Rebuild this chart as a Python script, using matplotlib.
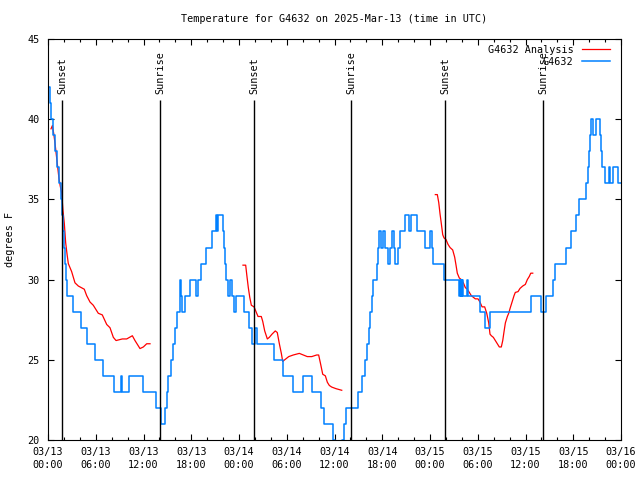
import numpy as np
import pandas as pd
import matplotlib
matplotlib.use('Agg')
import matplotlib.pyplot as plt
import matplotlib.dates as mdates

# hours after 2025-03-13 00:00 UTC
obs_hours = [0.0, 0.2, 0.4, 0.6, 0.85, 1.1, 1.35, 1.6, 1.8, 1.9, 2.0, 2.1, 2.25, 2.35,
             3.1, 4.1, 4.9, 5.9, 6.95, 8.33, 9.17, 9.34, 10.15, 11.9, 13.57, 14.2,
             14.75, 14.95, 15.1, 15.4, 15.75, 15.95, 16.25, 16.55, 16.62, 16.75, 16.88,
             17.25, 17.8, 18.6, 18.85, 19.25, 19.9, 20.55, 21.1, 21.25, 21.4, 22.0,
             22.06, 22.2, 22.38, 22.6, 22.85, 23.15, 23.35, 23.6, 24.57, 25.2, 25.6,
             26.05, 26.25, 28.4, 29.57, 30.75, 32.08, 33.21, 34.34, 34.68, 35.8, 36.0,
             36.9, 37.15, 37.5, 38.9, 39.45, 39.85, 40.05, 40.3, 40.45, 40.7, 40.88,
             41.3, 41.47, 41.63, 41.8, 42.15, 42.38, 42.75, 42.98, 43.2, 43.47, 43.63,
             43.98, 44.22, 44.8, 45.3, 45.6, 46.35, 47.4, 47.98, 48.25, 48.42, 49.7,
             51.68, 51.78, 51.85, 51.93, 52.0, 52.08, 52.2, 52.65, 52.75, 54.3, 54.95,
             55.55, 60.75, 62.0, 62.62, 63.4, 63.65, 65.1, 65.75, 66.3, 66.75, 67.6,
             67.8, 67.95, 68.1, 68.25, 68.45, 68.9, 69.4, 69.5, 69.65, 70.03, 70.45,
             70.6, 70.95, 71.6, 72.0]
obs_temps = [42, 41, 40, 39, 38, 37, 36, 35, 34, 33, 32, 31, 30, 29,
             28, 27, 26, 25, 24, 23, 24, 23, 24, 23, 22, 21,
             22, 23, 24, 25, 26, 27, 28, 29, 30, 29, 28,
             29, 30, 29, 30, 31, 32, 33, 34, 33, 34, 33,
             32, 31, 30, 29, 30, 29, 28, 29, 28, 27, 26,
             27, 26, 25, 24, 23, 24, 23, 22, 21, 20, 19,
             20, 21, 22, 23, 24, 25, 26, 27, 28, 29, 30,
             31, 32, 33, 32, 33, 32, 31, 32, 33, 32, 31,
             32, 33, 34, 33, 34, 33, 32, 33, 32, 31, 30,
             29, 30, 29, 30, 29, 30, 29, 30, 29, 28, 27,
             28, 29, 28, 29, 30, 31, 32, 33, 34, 35, 36,
             37, 38, 39, 40, 39, 40, 39, 38, 37, 36, 37,
             36, 37, 36, 36]

ana_hours_1 = [0.38, 0.55, 0.72, 0.88, 1.04, 1.22, 1.38, 1.55, 1.72, 1.88, 2.05, 2.22,
               2.39, 2.55, 2.97, 3.39, 3.81, 4.56, 4.86, 5.28, 5.69, 6.32, 6.82, 7.38,
               7.79, 8.21, 8.55, 9.34, 9.89, 10.6, 10.93, 11.56, 11.98, 12.4, 12.82]
ana_temps_1 = [39.4, 39.6, 39.1, 38.5, 37.8, 37.0, 36.3, 35.8, 35.4, 34.3, 33.5, 32.3,
               31.6, 31.0, 30.5, 29.8, 29.6, 29.4, 29.0, 28.6, 28.4, 27.9, 27.8, 27.2,
               27.0, 26.4, 26.2, 26.3, 26.3, 26.5, 26.2, 25.7, 25.8, 26.0, 26.0]
ana_hours_2 = [24.5, 24.84, 25.0, 25.17, 25.35, 25.55, 25.89, 26.14, 26.39, 26.8, 26.98,
               27.23, 27.56, 27.81, 28.15, 28.56, 28.81, 29.07, 29.32, 29.49, 29.74,
               30.25, 30.82, 31.58, 32.08, 32.58, 33.14, 33.76, 34.01, 34.27, 34.52,
               34.85, 35.1, 35.35, 35.65, 36.19, 36.91]
ana_temps_2 = [30.9, 30.9, 30.2, 29.5, 28.9, 28.4, 28.3, 28.0, 27.7, 27.7, 27.4,
               26.8, 26.3, 26.4, 26.6, 26.8, 26.7, 26.0, 25.4, 24.9, 25.0,
               25.2, 25.3, 25.4, 25.3, 25.2, 25.2, 25.3, 25.3, 24.7, 24.1,
               24.0, 23.6, 23.4, 23.3, 23.2, 23.1]
ana_hours_3 = [48.67, 48.92, 49.1, 49.26, 49.42, 49.6, 49.76, 50.01, 50.26, 50.52, 50.85,
               51.1, 51.27, 51.43, 51.68, 51.93, 52.19, 52.44, 52.69, 52.94, 53.19,
               53.44, 53.69, 54.03, 54.28, 54.54, 54.87, 55.13, 55.38, 55.54, 55.71,
               55.96, 56.21, 56.46, 56.71, 56.96, 57.14, 57.3, 57.47, 57.72, 57.89,
               58.06, 58.31, 58.56, 58.72, 59.06, 59.31, 59.65, 59.98, 60.23, 60.48,
               60.66, 60.91]
ana_temps_3 = [35.3, 35.3, 34.8, 34.1, 33.5, 32.8, 32.6, 32.5, 32.2, 32.0, 31.85,
               31.4, 30.9, 30.4, 30.1, 30.0, 29.8, 29.5, 29.4, 29.2, 29.0,
               28.9, 28.8, 28.8, 28.6, 28.3, 28.3, 27.9, 27.3, 26.6, 26.5,
               26.4, 26.2, 26.0, 25.8, 25.8, 26.2, 26.75, 27.3, 27.7, 27.9,
               28.2, 28.6, 29.0, 29.2, 29.25, 29.45, 29.6, 29.7, 30.0, 30.2,
               30.4, 30.4]

sun_hours = [1.76, 14.07, 25.9, 38.08, 49.9, 62.2]
sun_labels = ['Sunset', 'Sunrise', 'Sunset', 'Sunrise', 'Sunset', 'Sunrise']

start = pd.Timestamp('2025-03-13 00:00')
def to_time(h):
    return start + pd.to_timedelta(np.asarray(h, dtype=float), unit='h')

plt.rcParams['font.family'] = 'DejaVu Sans Mono'
plt.rcParams['font.size'] = 7.3

fig = plt.figure(figsize=(6.4, 4.8), dpi=100)
ax = fig.add_axes([48 / 640, 1 - 440 / 480, 573 / 640, 401 / 480])

red = '#ff0000'
blue = '#0080ff'
segs = [(ana_hours_1, ana_temps_1), (ana_hours_2, ana_temps_2), (ana_hours_3, ana_temps_3)]
for i, (h, t) in enumerate(segs):
    ax.plot(to_time(h), t, color=red, lw=0.9, label='G4632 Analysis' if i == 0 else None)
ax.plot(to_time(obs_hours), obs_temps, color=blue, lw=1.1, drawstyle='steps-post', label='G4632')

ax.vlines(to_time(sun_hours), 20, 41.2, color='black', lw=1.0, zorder=3)
for h, lab in zip(sun_hours, sun_labels):
    ax.text(to_time([h])[0], 41.6, lab, rotation=90, ha='center', va='bottom')

ax.set_xlim(start, start + pd.Timedelta(hours=72))
ax.set_ylim(20, 45)
ax.set_yticks(np.arange(20, 46, 5))
ax.xaxis.set_major_locator(mdates.HourLocator(byhour=range(0, 24, 6)))
ax.xaxis.set_minor_locator(mdates.HourLocator(byhour=range(0, 24, 2)))
ax.xaxis.set_major_formatter(mdates.DateFormatter('%m/%d\n%H:%M'))
ax.tick_params(which='both', direction='in', top=True, right=True, width=0.8)
ax.tick_params(which='major', length=4)
ax.tick_params(which='minor', length=2.5)
ax.tick_params(axis='x', pad=5)
ax.tick_params(axis='y', pad=6)

ax.set_title('Temperature for G4632 on 2025-Mar-13 (time in UTC)', pad=12, fontsize=7.3)
ax.set_ylabel('degrees F')
ax.yaxis.set_label_coords(-0.058, 0.5)

ax.legend(loc='upper right', bbox_to_anchor=(0.981, 0.985), frameon=False, markerfirst=False,
          handlelength=2.8, handletextpad=0.8, labelspacing=0.2, borderpad=0, borderaxespad=0)

fig.canvas.draw()
for t in ax.get_xticklabels():
    t.set_linespacing(1.4)

fig.savefig('out.png', dpi=100)
